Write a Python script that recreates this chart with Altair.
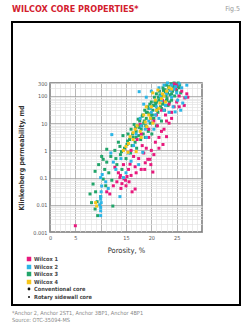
import altair as alt
import pandas as pd

# ---------------- data ----------------
series_names = ["Wilcox 1", "Wilcox 2", "Wilcox 3", "Wilcox 4"]
series_colors = ["#e8197d", "#2bb5e6", "#22a56a", "#f7c51a"]

# Wilcox 1 (magenta)
w1_phi = [5.0, 11.2, 11.8, 13.2, 13.8, 14.2, 14.6, 15.0, 15.2, 14.0, 16.2, 16.8, 12.8, 15.8, 16.8, 18.0,
          20.3, 19.3, 18.7, 19.7, 22.3, 23.0, 17.0, 15.5, 14.5, 13.5, 12.5, 16.0, 17.5, 18.5, 19.0, 20.0,
          20.8, 21.5, 22.0, 21.2, 19.5, 18.2, 17.2, 16.5, 23.5, 24.0, 22.8, 24.5, 25.0, 26.6, 25.0, 26.0,
          27.0, 24.5, 23.5, 22.0, 20.5, 19.5, 18.0, 26.5, 25.5, 21.0, 17.8, 16.0, 14.9, 15.6, 13.9, 19.9,
          21.5, 22.5, 24.0, 25.5, 23.0, 20.5, 18.8, 27.2, 24.8, 22.2]
w1_k = [0.0017, 0.03, 0.025, 0.07, 0.1, 0.06, 0.09, 0.05, 0.11, 0.04, 0.03, 0.038, 0.24, 0.31, 0.25, 0.2,
        0.16, 0.47, 0.2, 0.47, 1.65, 3.2, 0.15, 0.2, 0.3, 0.15, 0.05, 0.12, 0.5, 0.8, 1.2, 1.0,
        2.0, 3.0, 5.0, 8.0, 3.0, 1.5, 2.5, 0.6, 10, 15, 20, 40, 60, 85, 250, 150,
        120, 280, 50, 30, 12, 6, 4, 45, 100, 20, 9, 1.0, 0.08, 0.07, 0.12, 0.3,
        1.2, 6, 25, 40, 12, 0.7, 0.35, 90, 180, 70]

# Wilcox 2 (cyan)
w2_phi = [10.0, 10.0, 10.0, 10.1, 10.0, 10.0, 10.2, 10.3, 9.8, 10.1, 12.2, 12.5, 13.8, 11.5, 12.0, 14.0,
          17.6, 18.3, 24.7, 24.0, 27.0, 24.3, 25.2, 25.8, 26.2, 26.8, 15.5, 16.5, 17.0, 18.0, 19.0, 19.5,
          20.0, 20.5, 21.0, 21.5, 22.0, 22.5, 23.0, 23.5, 24.0, 24.5, 25.0, 25.5, 26.0, 20.0, 19.0, 18.5,
          21.5, 22.5, 23.2, 14.5, 13.0, 15.0, 16.0, 17.5, 11.0, 10.0,
          21.8, 23.8, 24.8, 22.8, 20.8, 19.8, 18.8, 17.8]
w2_k = [0.004, 0.006, 0.008, 0.012, 0.016, 0.02, 0.049, 0.13, 0.01, 0.03, 3.8, 0.37, 0.02, 0.04, 0.8, 0.5,
        144, 0.85, 26, 250, 250, 40, 70, 30, 55, 90, 0.8, 1.5, 4, 8, 3, 12,
        25, 6, 40, 15, 70, 30, 120, 25, 90, 180, 130, 280, 200, 150, 90, 50,
        200, 250, 300, 0.1, 0.2, 0.15, 0.4, 0.3, 0.07, 0.1,
        100, 160, 220, 45, 20, 35, 6, 15]

# Wilcox 3 (green)
w3_phi = [7.9, 8.5, 8.9, 9.3, 10.5, 11.2, 10.5, 11.2, 12.4, 8.2, 9.6, 10.8, 12.0, 11.6, 13.0, 13.8,
          12.8, 9.0, 10.2, 12.2, 10.0, 8.9, 9.4, 11.0,
          13.2, 13.5, 13.9, 14.2, 14.4, 14.7, 15.0, 15.2, 15.4, 15.7, 15.9,
          16.0, 16.2, 16.4, 16.6, 16.8, 17.0, 17.1, 17.3, 17.5,
          17.7, 17.9, 18.0, 18.2, 18.4, 18.5, 18.7, 18.8, 19.0, 19.1,
          19.3, 19.4, 19.6, 19.8, 20.0, 20.1, 20.3, 20.5, 20.6, 20.8, 21.0, 21.0,
          21.3, 21.5, 21.6, 21.8, 22.0, 22.1, 22.3, 22.5, 22.6, 22.8, 23.0, 23.1,
          23.3, 23.5, 23.7, 23.9, 24.0, 24.2, 24.4, 24.6, 24.8, 25.0, 25.3, 25.5, 25.8,
          18.1, 19.5, 20.9, 21.9, 22.7, 17.4, 16.9, 19.9, 21.2, 23.6,
          18.3, 18.9, 19.2, 19.7, 20.2, 20.4, 20.7, 21.1, 21.4, 21.7, 22.2, 22.4, 22.9, 23.2,
          23.4, 23.8, 24.1, 24.3, 24.5, 24.7, 25.1, 25.6, 19.0, 20.0, 21.0, 22.0, 23.0, 24.0,
          17.0, 17.6, 18.6, 16.3, 15.3, 14.1]
w3_k = [0.025, 0.058, 0.17, 0.013, 0.088, 0.37, 0.47, 1.1, 0.009, 0.012, 0.3, 0.2, 0.6, 0.15, 0.5, 1.4,
        1.0, 0.03, 0.6, 0.08, 0.02, 0.007, 0.004, 0.05,
        0.3, 2.0, 0.7, 0.2, 3.5, 1.2, 0.5, 1.65, 4.0, 2.5, 0.8,
        6, 1.5, 3, 9, 2, 5, 1.2, 8, 3.5,
        12, 2.5, 6, 18, 4, 10, 30, 3, 15, 7,
        40, 5, 22, 10, 60, 4, 30, 15, 90, 45, 8, 120,
        25, 70, 150, 40, 12, 100, 200, 60, 30, 140, 250, 80,
        45, 180, 110, 280, 70, 150, 220, 100, 260, 160, 300, 200, 130,
        8, 35, 55, 90, 170, 14, 7, 20, 35, 60,
        20, 8, 25, 50, 20, 45, 60, 30, 90, 110, 50, 160, 100, 130,
        220, 170, 250, 190, 300, 230, 220, 250, 25, 15, 60, 35, 70, 120,
        3, 7, 12, 4, 2.2, 0.9]

# Wilcox 4 (yellow)
w4_phi = [9.2, 9.0, 15.4, 15.8, 16.4, 19.1, 20.3, 21.7, 21.0, 18.8, 17.8, 16.4, 15.5, 15.0, 17.0, 20.3,
          21.3, 19.5, 20.0, 22.0, 22.5, 23.0, 18.0, 17.2, 19.8, 21.5, 22.8, 23.5, 24.0, 16.8, 18.5, 20.8,
          14.5, 19.0, 22.2]
w4_k = [0.009, 0.012, 0.85, 3.2, 4.5, 7.5, 10, 55, 30, 11, 5, 2.5, 1.8, 1.4, 0.9, 130,
        165, 20, 40, 80, 100, 150, 3, 8, 15, 35, 60, 200, 180, 6, 20, 70,
        1.0, 40, 120]

legend_labels = ["Wilcox 1", "Wilcox 2", "Wilcox 3", "Wilcox 4"]
core_labels = ["Conventional core", "Rotary sidewall core"]
title_text = "WILCOX CORE PROPERTIES*"
fig_text = "Fig.5"
foot1 = "*Anchor 2, Anchor 2ST1, Anchor 3BP1, Anchor 4BP1"
foot2 = "Source: OTC-35094-MS"
x_title = "Porosity, %"
y_title = "Klinkenberg permeability, md"

# ---------------- build table ----------------
rows = []
for i, (ph, kk) in enumerate([(w1_phi, w1_k), (w2_phi, w2_k), (w3_phi, w3_k), (w4_phi, w4_k)]):
    for p, k in zip(ph, kk):
        rows.append({"phi": p, "k": k, "series": series_names[i]})
df = pd.DataFrame(rows)
draw_order = {"Wilcox 3": 0, "Wilcox 1": 1, "Wilcox 2": 2, "Wilcox 4": 3}
df["ord"] = df["series"].map(draw_order)

FONT = "Liberation Sans Narrow, DejaVu Sans Condensed, sans-serif"

# grid / tick positions
x_vals = list(range(0, 31))
y_vals = []
for e in range(-3, 3):
    for m in range(1, 10):
        y_vals.append(round(m * 10 ** e, 6))
y_vals += [200, 300]

dec_test = "abs(log(datum.value)/LN10 - round(log(datum.value)/LN10)) < 0.0001"

points = alt.Chart(df).mark_square(size=9, opacity=1).encode(
    x=alt.X("phi:Q", scale=alt.Scale(domain=[0, 30], nice=False, zero=False),
            axis=alt.Axis(values=x_vals, title=x_title, ticks=False, domain=False,
                          labelExpr="(datum.value % 5 == 0 && datum.value != 10 && datum.value != 30) ? datum.label : ''",
                          gridColor={"condition": {"test": "datum.value % 5 == 0", "value": "#9a9a9a"}, "value": "#e3e3e3"},
                          gridWidth=0.7, labelFontSize=5.5, labelColor="#555", labelFont=FONT,
                          labelPadding=3, titleFontSize=7.5, titleFont=FONT, titleFontWeight="normal",
                          titleColor="#333", titlePadding=6, labelFlush=False)),
    y=alt.Y("k:Q", scale=alt.Scale(type="log", domain=[0.001, 300], nice=False),
            axis=alt.Axis(values=y_vals, title=y_title, ticks=False, domain=False,
                          labelExpr="(" + dec_test + " || datum.value == 300) ? format(datum.value, '~g') : ''",
                          gridColor={"condition": {"test": dec_test, "value": "#9a9a9a"}, "value": "#e3e3e3"},
                          gridWidth=0.7, labelFontSize=5.5, labelColor="#555", labelFont=FONT,
                          labelPadding=3, titleFontSize=7, titleFont=FONT, titleFontWeight="bold",
                          titleColor="#333", titlePadding=8, labelFlush=False)),
    color=alt.Color("series:N", scale=alt.Scale(domain=series_names, range=series_colors), legend=None),
    order=alt.Order("ord:Q"),
)

one = pd.DataFrame({"a": [0]})

def txt(s, x, y, size, color, weight="normal", align="left", font=FONT):
    return alt.Chart(one).mark_text(text=s, align=align, baseline="middle", fontSize=size,
                                    color=color, fontWeight=weight, font=font).encode(
        x=alt.value(x), y=alt.value(y))

layers = [points]
# frame box
layers.append(alt.Chart(one).mark_rect(filled=False, stroke="black", strokeWidth=2).encode(
    x=alt.value(-38), x2=alt.value(190), y=alt.value(-61), y2=alt.value(222)))
layers.append(txt(title_text, -38, -74, 9, "#d3202e", weight="bold"))
layers.append(txt(fig_text, 190, -74, 7, "#999999", align="right"))
layers.append(txt(foot1, -38, 230, 5.6, "#888888"))
layers.append(txt(foot2, -38, 237, 5.6, "#888888"))

row_y = [176, 184, 191, 199, 206, 214]
for i, lab in enumerate(legend_labels):
    layers.append(alt.Chart(one).mark_square(size=20, opacity=1, color=series_colors[i]).encode(
        x=alt.value(-21), y=alt.value(row_y[i])))
    layers.append(txt(lab, -16, row_y[i], 5.6, "#444444", weight="bold"))
for j, lab in enumerate(core_labels):
    layers.append(alt.Chart(one).mark_circle(size=[8, 4][j], opacity=1, color="#111").encode(
        x=alt.value(-21), y=alt.value(row_y[4 + j])))
    layers.append(txt(lab, -16, row_y[4 + j], 5.6, "#444444", weight="bold"))

chart = alt.layer(*layers).properties(
    width=152, height=149,
    autosize=alt.AutoSizeParams(type="none"),
    padding={"left": 50, "top": 83, "right": 48, "bottom": 99},
    background="white",
).configure_view(stroke="#777777", strokeWidth=1.5)

chart.save("out.html", embed_options={"renderer": "svg", "actions": False})
